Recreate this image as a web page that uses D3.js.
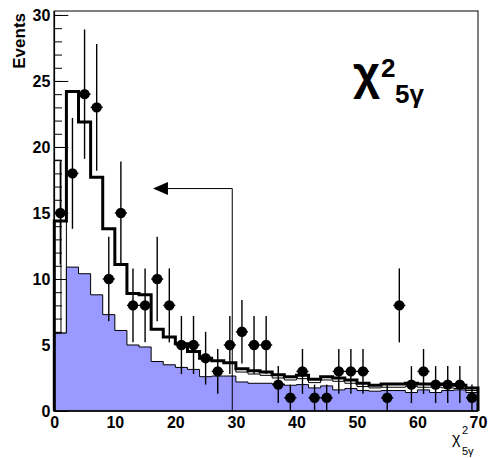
<!DOCTYPE html>
<html>
<head>
<meta charset="utf-8">
<script src="https://cdn.jsdelivr.net/npm/d3@7"></script>
<style>
body { margin: 0; background: #fff; }
text { font-family: 'Liberation Sans', Arial, sans-serif; }
</style>
</head>
<body>
<div id="chart"></div>
<script>
// bins of chi2_5gamma, width 2
const binCenters = [1, 3, 5, 7, 9, 11, 13, 15, 17, 19, 21, 23, 25, 27, 29, 31, 33, 35, 37, 39, 41, 43, 45, 47, 49, 51, 53, 55, 57, 59, 61, 63, 65, 67, 69]
const binHalf = 1

// data points and their errors
const dataCounts = [15, 18, 24, 23, 10, 15, 8, 8, 10, 8, 5, 5, 4, 3, 5, 6, 5, 5, 2, 1, 3, 1, 1, 3, 3, 3, 0, 1, 8, 2, 3, 2, 2, 2, 1]
const dataErrors = [3.9, 4.2, 4.9, 4.8, 3.2, 3.9, 2.8, 2.8, 3.2, 2.8, 2.2, 2.2, 2.0, 1.7, 2.2, 2.4, 2.2, 2.2, 1.4, 1.0, 1.7, 1.0, 1.0, 1.7, 1.7, 1.7, 0, 1.0, 2.8, 1.4, 1.7, 1.4, 1.4, 1.4, 1.0]

// MC total (thick line)
const mcTotal = [14.4, 24.2, 21.9, 17.7, 13.8, 11.1, 8.9, 8.8, 6.2, 5.6, 5.1, 4.5, 4.0, 3.8, 3.65, 3.2, 3.05, 2.95, 2.75, 2.6, 2.7, 2.4, 2.6, 2.5, 2.35, 2.1, 1.95, 2.05, 2.05, 2.1, 2.05, 2.05, 2.0, 1.95, 1.75]
// second MC component (thin outline)
const mcMid = [5.9, 24.2, 21.9, 17.7, 13.8, 11.1, 8.9, 8.8, 6.2, 5.6, 5.1, 4.5, 4.0, 3.8, 3.65, 2.95, 2.8, 2.7, 2.5, 2.35, 2.45, 2.15, 2.35, 2.25, 2.1, 1.85, 1.75, 1.8, 1.8, 1.85, 1.8, 1.8, 1.75, 1.7, 1.55]
// background (blue)
const mcBkg = [5.9, 10.9, 10.4, 8.8, 7.3, 6.1, 5.0, 4.85, 3.75, 3.5, 3.3, 3.15, 2.6, 2.65, 2.65, 2.2, 2.1, 2.1, 2.05, 1.95, 2.0, 1.75, 1.9, 1.6, 1.7, 1.55, 1.5, 1.55, 1.55, 1.4, 1.6, 1.4, 1.55, 1.6, 1.4]

// narrow box in first bin
const boxX = [0, 1.1]
const boxY = [5.9, 19]

// cut arrow
const cutX = 29.4
const arrowY = 16.85
const arrowTipX = 16.3

const yMajor = [0, 5, 10, 15, 20, 25, 30]
const yMinor = d3.range(0, 31)
const xMajor = [0, 10, 20, 30, 40, 50, 60, 70]

const width = 489, height = 458

let svg = d3.select('#chart')
.append('svg')
.attr('width', width)
.attr('height', height)

svg.append('rect').attr('width', width).attr('height', height).attr('fill', '#fff')

let xScale = d3.scaleLinear()
.domain([0, 70])
.range([54.3, 478])

let yScale = d3.scaleLinear()
.domain([0, 30.3])
.range([411, 11])

function histPoints(vals) {
	let pts = binCenters.map((c, i) => [c - binHalf, vals[i]])
	pts.push([binCenters[binCenters.length - 1] + binHalf, vals[vals.length - 1]])
	return pts
}

function outlinePoints(vals) {
	let pts = histPoints(vals)
	pts.unshift([pts[0][0], 0])
	pts.push([pts[pts.length - 1][0], 0])
	return pts
}

let areaFunc = d3.area()
.x(d => xScale(d[0]))
.y0(yScale(0))
.y1(d => yScale(d[1]))
.curve(d3.curveStepAfter)

let lineFunc = d3.line()
.x(d => xScale(d[0]))
.y(d => yScale(d[1]))
.curve(d3.curveStepAfter)

// mid component: white fill
svg.append('path')
.attr('d', areaFunc(histPoints(mcMid)))
.attr('fill', '#fff')

// ticks go under the blue histogram
svg.append('g')
.attr('transform', `translate(${xScale(0)},0)`)
.call(d3.axisLeft(yScale).tickValues(yMinor).tickSizeInner(-7.7).tickSizeOuter(0).tickFormat(''))
.call(g => g.select('.domain').remove())

svg.append('g')
.attr('class', 'yaxis')
.attr('transform', `translate(${xScale(0)},0)`)
.call(d3.axisLeft(yScale).tickValues(yMajor).tickSizeInner(-14).tickSizeOuter(0).tickPadding(4))
.call(g => g.select('.domain').remove())

svg.append('g')
.attr('class', 'xaxis')
.attr('transform', `translate(0,${yScale(0)})`)
.call(d3.axisBottom(xScale).tickValues(xMajor).tickSizeInner(-12).tickSizeOuter(0).tickPadding(6))
.call(g => g.select('.domain').remove())

svg.selectAll('.tick line').attr('stroke', '#000').attr('stroke-width', 1)
svg.selectAll('.tick text')
.attr('fill', '#000')
.style('font-size', '16px')
.style('font-weight', 'bold')

// mid component outline
svg.append('path')
.attr('d', lineFunc(outlinePoints(mcMid)))
.attr('fill', 'none')
.attr('stroke', '#000')
.attr('stroke-width', 1)

// background: blue
svg.append('path')
.attr('d', areaFunc(histPoints(mcBkg)))
.attr('fill', '#9999ff')
svg.append('path')
.attr('d', lineFunc(outlinePoints(mcBkg)))
.attr('fill', 'none')
.attr('stroke', '#000')
.attr('stroke-width', 1)

svg.append('rect')
.attr('x', xScale(boxX[0]))
.attr('y', yScale(boxY[1]))
.attr('width', xScale(boxX[1]) - xScale(boxX[0]))
.attr('height', yScale(boxY[0]) - yScale(boxY[1]))
.attr('fill', 'none')
.attr('stroke', '#000')
.attr('stroke-width', 1)

// total MC: thick line
svg.append('path')
.attr('d', lineFunc(outlinePoints(mcTotal)))
.attr('fill', 'none')
.attr('stroke', '#000')
.attr('stroke-width', 3)

// data points
let pts = binCenters.map((c, i) => ({ x: c, y: dataCounts[i], e: dataErrors[i] }))
.filter(d => d.y > 0)

svg.selectAll('.ebar')
.data(pts)
.join('line')
.attr('class', 'ebar')
.attr('x1', d => xScale(d.x))
.attr('x2', d => xScale(d.x))
.attr('y1', d => yScale(d.y - d.e))
.attr('y2', d => yScale(d.y + d.e))
.attr('stroke', '#000')
.attr('stroke-width', 1.4)

svg.selectAll('.xbar')
.data(pts)
.join('line')
.attr('class', 'xbar')
.attr('x1', d => xScale(d.x - binHalf))
.attr('x2', d => xScale(d.x + binHalf))
.attr('y1', d => yScale(d.y))
.attr('y2', d => yScale(d.y))
.attr('stroke', '#000')
.attr('stroke-width', 1.4)

svg.selectAll('.dot')
.data(pts)
.join('circle')
.attr('class', 'dot')
.attr('cx', d => xScale(d.x))
.attr('cy', d => yScale(d.y))
.attr('r', 5.2)
.attr('fill', '#000')

// cut arrow
let tipX = xScale(arrowTipX), ay = yScale(arrowY)
svg.append('polyline')
.attr('points', [[xScale(cutX), yScale(0)], [xScale(cutX), ay], [tipX + 14, ay]].join(' '))
.attr('fill', 'none')
.attr('stroke', '#000')
.attr('stroke-width', 1)
svg.append('path')
.attr('d', `M${tipX},${ay} L${tipX + 15},${ay - 6.5} L${tipX + 15},${ay + 6.5} Z`)
.attr('fill', '#000')

// frame
svg.append('rect')
.attr('x', xScale(0))
.attr('y', yScale(30.3))
.attr('width', xScale(70) - xScale(0))
.attr('height', yScale(0) - yScale(30.3))
.attr('fill', 'none')
.attr('stroke', '#000')
.attr('stroke-width', 1)
svg.append('path')
.attr('d', `M${xScale(0)},${yScale(30.3)} V${yScale(0)} H${xScale(70)}`)
.attr('fill', 'none')
.attr('stroke', '#000')
.attr('stroke-width', 1.6)

// axis titles
svg.append('text')
.attr('transform', `translate(25,13) rotate(-90)`)
.attr('text-anchor', 'end')
.style('font-size', '17px')
.style('font-weight', 'bold')
.text('Events')

let xt = svg.append('g')
xt.append('text').attr('x', 452).attr('y', 444).style('font-size', '16px').text('χ')
xt.append('text').attr('x', 462).attr('y', 434).style('font-size', '11px').text('2')
xt.append('text').attr('x', 462).attr('y', 455).style('font-size', '11px').text('5γ')

// big label
let big = svg.append('g').style('font-family', "'Open Sans', sans-serif").style('font-weight', 'bold')
big.append('text').attr('x', 353).attr('y', 89).style('font-size', '47px').text('χ')
big.append('text').attr('x', 381).attr('y', 77).style('font-size', '26px').text('2')
big.append('text').attr('x', 395).attr('y', 103).style('font-size', '26px').text('5γ')
</script>
</body>
</html>
